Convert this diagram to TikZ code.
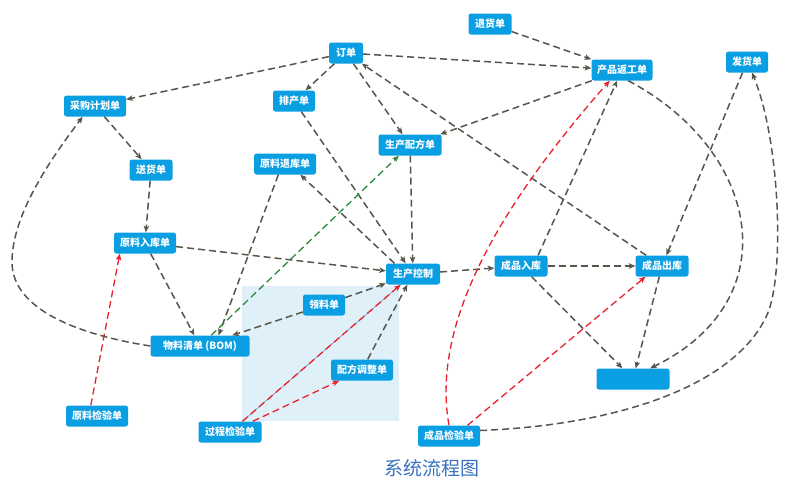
\documentclass[tikz,border=0pt]{standalone}
\usepackage{fontspec}
\newfontfamily\cjk{Noto Sans CJK SC}
\usetikzlibrary{arrows.meta,backgrounds}
\definecolor{nodeblue}{HTML}{0A9FE3}
\definecolor{edgegray}{HTML}{56564A}
\definecolor{edgered}{HTML}{E8222C}
\definecolor{edgegreen}{HTML}{2F8A3C}
\definecolor{zoneblue}{HTML}{DFF0F8}
\definecolor{titleblue}{HTML}{3A72C0}
\definecolor{thinblue}{HTML}{7E9EC4}
\begin{document}
\begin{tikzpicture}[x=1pt,y=-1pt,
  box/.style={rectangle,rounded corners=2.5pt,fill=nodeblue,text=white,
    font=\cjk\bfseries\fontsize{10}{12}\selectfont,minimum height=21pt,inner sep=0pt},
  flow/.style={draw=edgegray,line width=1.5pt,dash pattern=on 7pt off 4pt,
    -{Stealth[length=6.5pt,width=5.5pt,inset=1.5pt]}},
  redflow/.style={flow,draw=edgered,line width=1.3pt},
  greenflow/.style={flow,draw=edgegreen,line width=1.3pt}]
\useasboundingbox (0,0) rectangle (800,498);
\fill[white] (0,0) rectangle (800,498);
\fill[zoneblue] (242,286) rectangle (399,421);

% nodes
\node[box,minimum width=34pt] (dd) at (346,53) {订单};
\node[box,minimum width=43pt] (th) at (490,24) {退货单};
\node[box,minimum width=61pt] (fg) at (622,70) {产品返工单};
\node[box,minimum width=42pt] (fh) at (747,62) {发货单};
\node[box,minimum width=62pt] (cg) at (95,106) {采购计划单};
\node[box,minimum width=42pt] (pc) at (294,101) {排产单};
\node[box,minimum width=63pt] (pf) at (410,145) {生产配方单};
\node[box,minimum width=62pt] (yt) at (285,164) {原料退库单};
\node[box,minimum width=43pt] (sh) at (151,170) {送货单};
\node[box,minimum width=62pt] (yr) at (145,243) {原料入库单};
\node[box,minimum width=54pt] (sk) at (413,274) {生产控制};
\node[box,minimum width=53pt] (cr) at (521,266) {成品入库};
\node[box,minimum width=53pt] (cc) at (662,266) {成品出库};
\node[box,minimum width=73pt] (bl) at (633,379) {};
\node[box,minimum width=62pt] (cj) at (449,436) {成品检验单};
\node[box,minimum width=42pt] (ll) at (324,305) {领料单};
\node[box,minimum width=99pt] (bom) at (200,346) {物料清单 (BOM)\hspace{8pt}};
\node[box,minimum width=62pt] (pt) at (362,370) {配方调整单};
\node[box,minimum width=62pt] (yj) at (97,416) {原料检验单};
\node[box,minimum width=63pt] (gj) at (230,432) {过程检验单};

\node[font=\cjk\fontsize{19}{22}\selectfont,text=titleblue] (title) at (432,468) {系统流程图};

% grey connectors
\draw[flow] (dd) -- (cg);
\draw[flow] (dd) -- (pc);
\draw[flow] (dd) -- (pf);
\draw[flow] (cc) -- (dd);
\draw[flow] (dd) -- (fg);
\draw[flow] (th) -- (fg);
\draw[flow] (fg) -- (pf);
\draw[flow] (fg.300) .. controls (760,150) and (790,300) .. (bl.32);
\draw[flow] (fh) -- (cc);
\draw[flow] (cj.10) .. controls (620,425) and (735,385) .. (767,315)
   .. controls (785,275) and (780,140) .. (fh.295);
\draw[flow] (cg) -- (sh);
\draw[flow] (sh) -- (yr);
\draw[flow] (bom.west) .. controls (80,335) and (12,310) .. (12,262)
   .. controls (12,215) and (50,160) .. (cg.221);
\draw[flow] (yr) -- (bom);
\draw[flow] (yr) -- (sk);
\draw[flow] (yt.238) -- (bom.30);
\draw[flow] (sk.150) -- (yt.325);
\draw[flow] (pc) -- (sk);
\draw[flow] (pf) -- (sk);
\draw[flow] (ll) -- (sk);
\draw[flow] (ll) -- (bom);
\draw[flow] (pt) -- (sk);
\draw[flow] (sk) -- (cr);
\draw[flow] (cr) -- (cc);
\draw[flow] (cr.32) -- (fg);
\draw[flow] (cr) -- (bl);
\draw[flow] (cc) -- (bl);

% green
\draw[greenflow] (bom) -- (pf);

% red
\draw[thinblue,line width=0.7pt] (gj) -- (sk);
\draw[redflow] (gj) -- (sk);
\draw[redflow] (gj) -- (pt);
\draw[redflow] (yj.120) -- (yr.203);
\draw[redflow] (cj.north) .. controls (430,320) and (505,200) .. (fg.221);
\draw[redflow] (cj.30) -- (cc.213);
\end{tikzpicture}
\end{document}
